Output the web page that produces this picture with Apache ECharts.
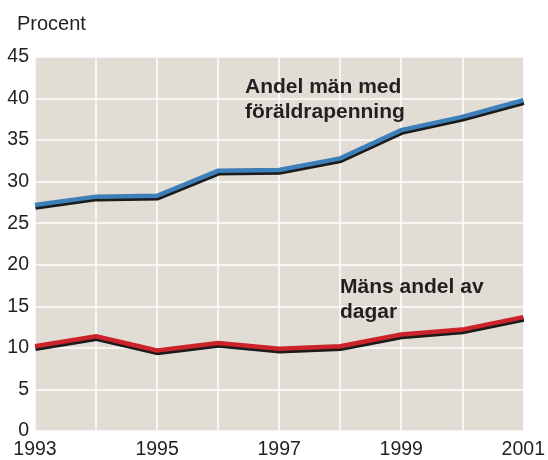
<!DOCTYPE html>
<html>
<head>
<meta charset="utf-8">
<script src="https://cdn.jsdelivr.net/npm/echarts@6/dist/echarts.min.js"></script>
<style>
	html, body { margin: 0; padding: 0; background: #fff; }
	#chart { width: 548px; height: 460px; }
</style>
</head>
<body>
<div id="chart"></div>
<script>
var years = ['1993', '1994', '1995', '1996', '1997', '1998', '1999', '2000', '2001'];
// Andel män med föräldrapenning
var manMedFp = [27.2, 28.2, 28.3, 31.3, 31.4, 32.8, 36.2, 37.8, 39.8];
// Mäns andel av dagar
var mansDagar = [10.2, 11.4, 9.7, 10.6, 9.9, 10.2, 11.6, 12.2, 13.7];
var yTicks = [0, 45, 5];

var fontFam = '"Liberation Sans", Arial, Helvetica, sans-serif';
var txtColor = '#231f20';

function lineSeries(_data, _color) {
	return {
		type: 'line',
		data: _data,
		symbol: 'none',
		silent: true,
		lineStyle: {
			color: _color,
			width: 4.5,
			cap: 'butt',
			join: 'miter',
			shadowColor: '#1b1b1b',
			shadowBlur: 0,
			shadowOffsetX: 0.5,
			shadowOffsetY: 2.5
		}
	};
}

function label(_txt, _x, _y) {
	return {
		type: 'text',
		left: _x,
		top: _y,
		z: 100,
		style: {
			text: _txt,
			fill: txtColor,
			font: 'bold 21px ' + fontFam
		}
	};
}

var option = {
	animation: false,
	title: {
		text: 'Procent',
		left: 12,
		top: 9,
		textStyle: {
			color: txtColor,
			fontFamily: fontFam,
			fontWeight: 'normal',
			fontSize: 20
		}
	},
	grid: {
		left: 35,
		right: 24,
		top: 57,
		bottom: 28,
		show: true,
		backgroundColor: '#e1dcd4',
		borderWidth: 0
	},
	xAxis: {
		type: 'category',
		data: years,
		boundaryGap: false,
		axisLine: { show: false },
		axisTick: { show: false },
		axisLabel: {
			interval: 1,
			margin: 9,
			color: txtColor,
			fontFamily: fontFam,
			fontSize: 19.5
		},
		splitLine: {
			show: true,
			interval: 0,
			lineStyle: { color: '#ffffff', width: 1.5 }
		}
	},
	yAxis: {
		type: 'value',
		min: yTicks[0],
		max: yTicks[1],
		interval: yTicks[2],
		axisLine: { show: false },
		axisTick: { show: false },
		axisLabel: {
			margin: 6,
			color: txtColor,
			fontFamily: fontFam,
			fontSize: 19.5
		},
		splitLine: {
			lineStyle: { color: '#ffffff', width: 1.5 }
		}
	},
	graphic: [
		label('Andel män med', 245, 77),
		label('föräldrapenning', 245, 102),
		label('Mäns andel av', 340, 277),
		label('dagar', 340, 302)
	],
	series: [
		lineSeries(manMedFp, '#3d7fb8'),
		lineSeries(mansDagar, '#cc2229')
	]
};

var chart = echarts.init(document.getElementById('chart'));
chart.setOption(option);
</script>
</body>
</html>
